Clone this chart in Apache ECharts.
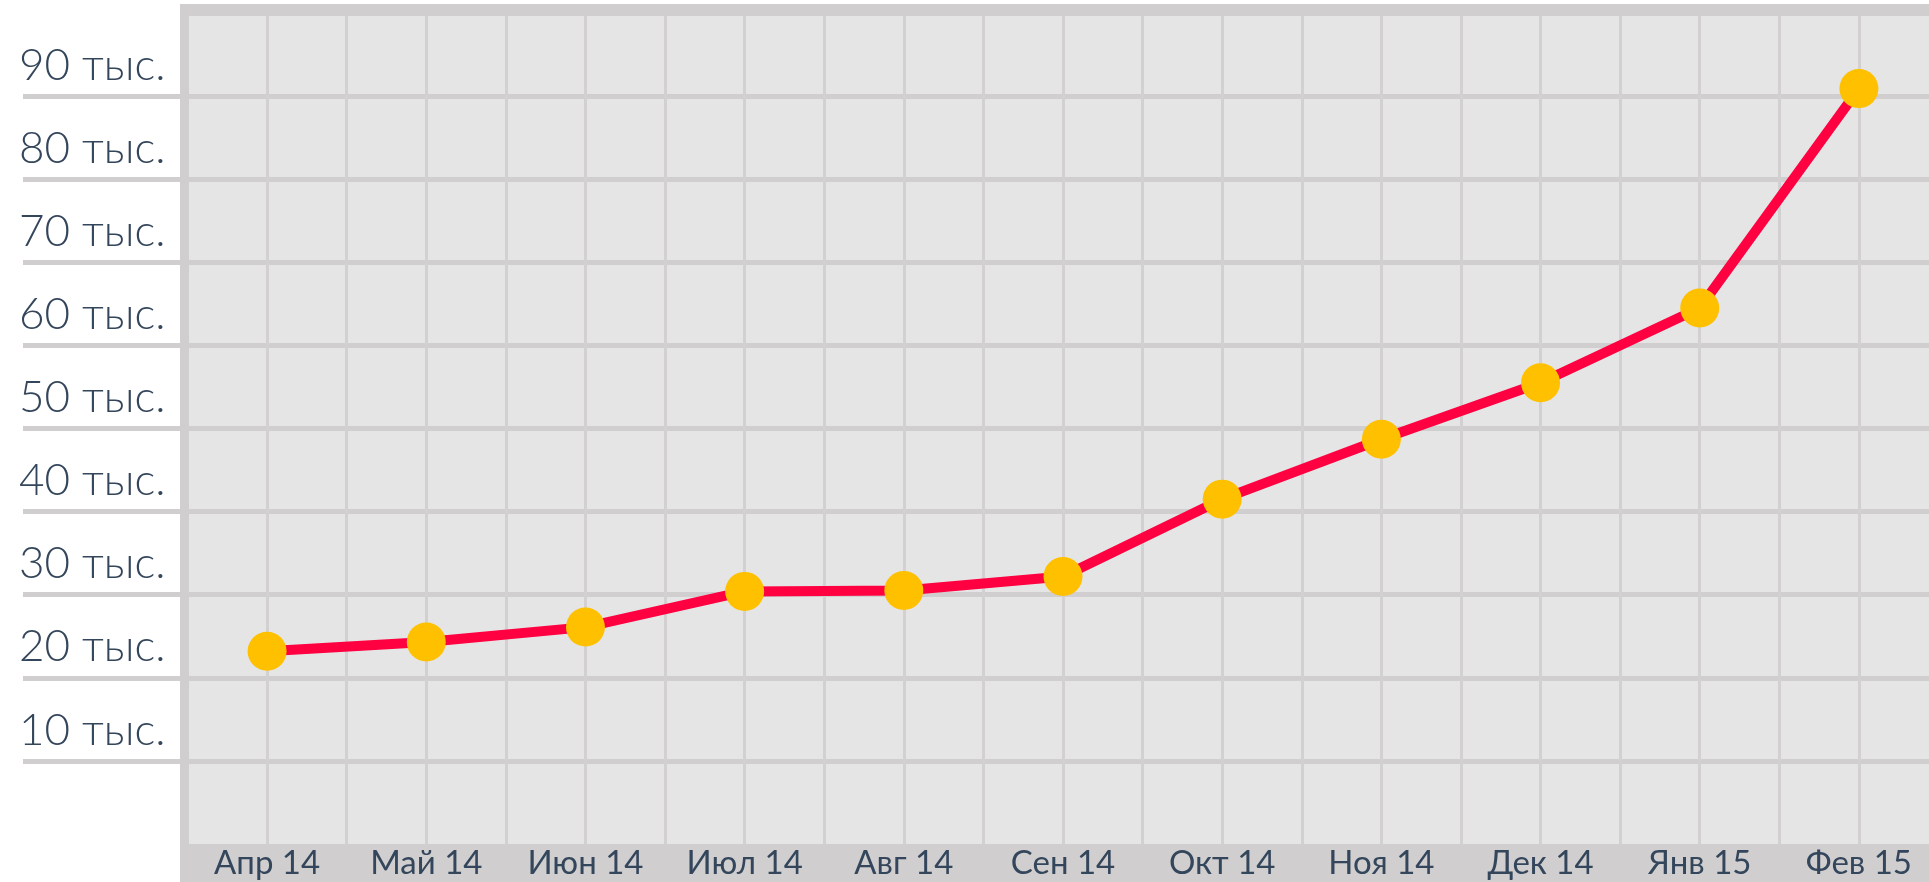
<!DOCTYPE html>
<html>
<head>
<meta charset="utf-8">
<script src="https://cdn.jsdelivr.net/npm/echarts@6/dist/echarts.min.js"></script>
<style>
html,body{margin:0;padding:0;background:#fff;}
#chart{width:1929px;height:882px;}
</style>
</head>
<body>
<div id="chart"></div>
<script>
const categories = ['Апр 14','Май 14','Июн 14','Июл 14','Авг 14','Сен 14','Окт 14','Ноя 14','Дек 14','Янв 15','Фев 15'];
const values = [23200, 24300, 26100, 30400, 30500, 32200, 41500, 48700, 55500, 64500, 90900];
const yTickValues = [10000, 20000, 30000, 40000, 50000, 60000, 70000, 80000, 90000];
const labelSuffix = ' тыс.';

const borderColor = '#d0cece';
const textColor = '#34465b';

const chart = echarts.init(document.getElementById('chart'), null, {renderer: 'canvas'});
chart.setOption({
  animation: false,
  backgroundColor: '#ffffff',
  grid: {
    left: 187.5, top: 13, width: 1751, height: 831,
    outerBoundsMode: 'none',
    containLabel: false,
    show: true, backgroundColor: '#e5e5e5', borderWidth: 0
  },
  graphic: [
    {type: 'rect', shape: {x: 180, y: 4, width: 9, height: 878}, style: {fill: borderColor}, z: 1, silent: true}
  ],
  xAxis: [
    {
      type: 'category',
      data: categories,
      position: 'bottom',
      boundaryGap: true,
      offset: 19,
      axisLine: {show: true, onZero: false, lineStyle: {color: borderColor, width: 38, cap: 'butt'}},
      axisTick: {show: false},
      splitLine: {show: false},
      axisLabel: {
        interval: 0, margin: 0, verticalAlign: 'middle',
        color: textColor, fontFamily: 'Lato', fontSize: 33
      }
    },
    {
      type: 'value',
      position: 'top',
      min: 0, max: 22, interval: 1,
      offset: 3,
      axisLine: {show: true, onZero: false, lineStyle: {color: borderColor, width: 12, cap: 'butt'}},
      axisTick: {show: false},
      axisLabel: {show: false},
      splitLine: {show: true, lineStyle: {color: '#d2d0d0', width: 3}}
    }
  ],
  yAxis: {
    type: 'value',
    min: 0, max: 100000, interval: 10000,
    offset: 3,
    axisLine: {show: true, onZero: false, lineStyle: {color: borderColor, width: 9, cap: 'butt'}},
    axisTick: {
      show: true, inside: false, length: 161.5,
      customValues: yTickValues,
      lineStyle: {color: borderColor, width: 5, cap: 'butt'}
    },
    splitLine: {show: true, lineStyle: {color: borderColor, width: 5}},
    axisLabel: {
      customValues: yTickValues,
      showMinLabel: true,
      showMaxLabel: true,
      hideOverlap: false,
      margin: 19,
      align: 'right',
      verticalAlign: 'bottom',
      lineHeight: 61,
      color: textColor,
      fontFamily: 'Lato',
      fontWeight: 300,
      fontSize: 44,
      formatter: function (v) { return (v / 1000) + labelSuffix; }
    }
  },
  series: [{
    type: 'line',
    xAxisIndex: 0,
    yAxisIndex: 0,
    data: values,
    symbol: 'circle',
    symbolSize: 39,
    lineStyle: {color: '#ff0041', width: 10},
    itemStyle: {color: '#ffc000'},
    z: 5
  }]
});
</script>
</body>
</html>
